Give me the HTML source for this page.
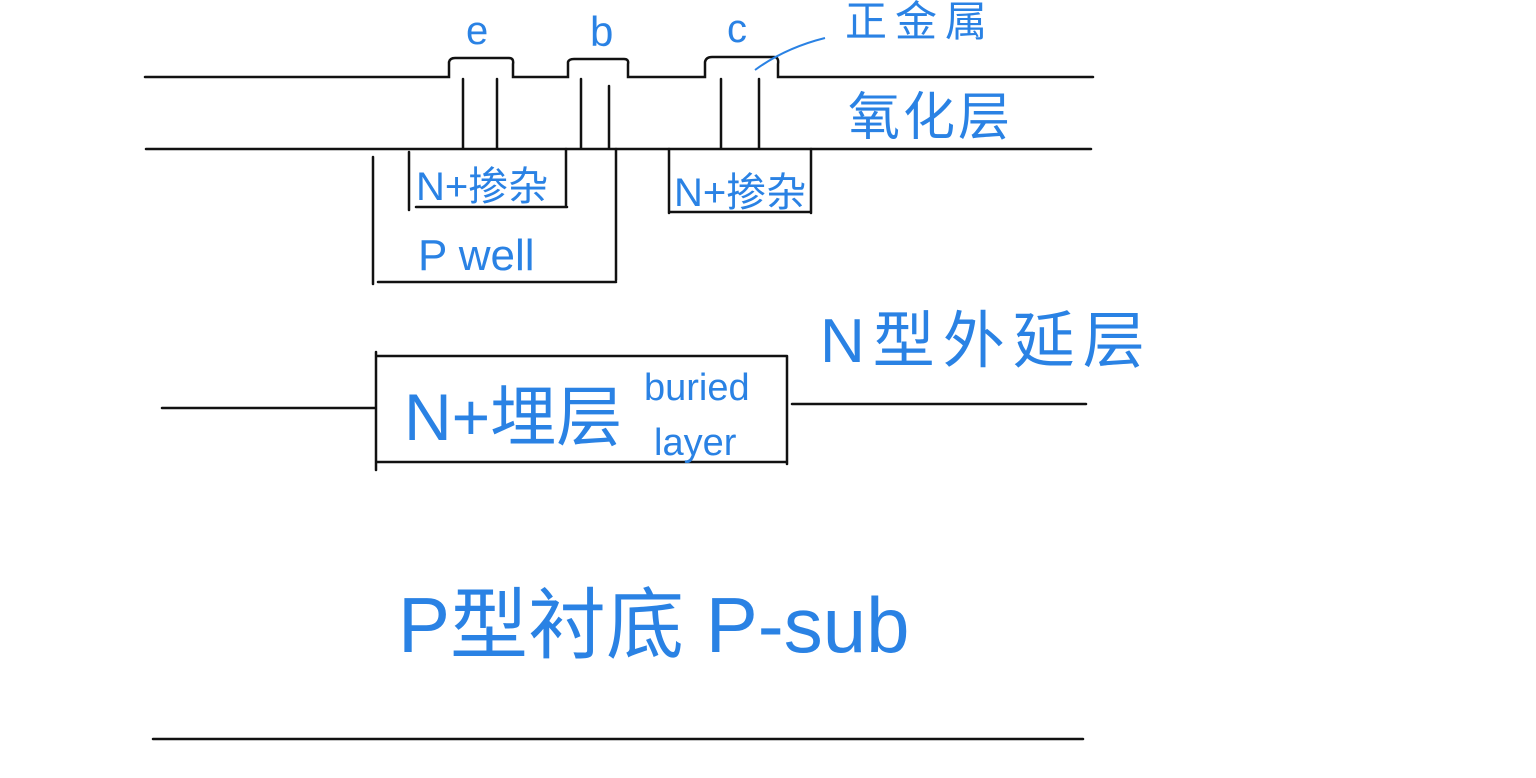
<!DOCTYPE html>
<html><head><meta charset="utf-8"><style>
html,body{margin:0;padding:0;background:#fff;}
svg{display:block}
text{fill:#2a82e4;font-family:"Liberation Sans","Noto Sans CJK SC",sans-serif;}
</style></head><body>
<svg width="1536" height="778" viewBox="0 0 1536 778" xmlns="http://www.w3.org/2000/svg">
<g stroke="#111" stroke-width="2.5" fill="none" stroke-linecap="round">
<path d="M145 77 H449 V62 Q450 58 455 58 H509 Q514 58 513 64 V77 H568 V62 Q569 59 574 59 H624 Q629 59 628 64 V77 H705 V62 Q706 57 712 57 H774 Q779 57 778 64 V77 H1093"/>
<path d="M463 79 V148 M497 79 V148 M581 79 V148 M609 86 V148 M721 79 V148 M759 79 V148"/>
<path d="M146 149 H1091"/>
<path d="M409 152 V210 M416 207 H567 M566 149 V207"/>
<path d="M373 157 V284 M378 282 H616 M616 149 V280"/>
<path d="M669 149 V213 M669 212 H811 M811 149 V213"/>
<path d="M162 408 H375 M376 352 V470 M376 356 H787 M376 462 H787 M787 356 V464 M792 404 H1086"/>
<path d="M153 739 H1083"/>
</g>
<path d="M755 70 Q785 48 825 38" stroke="#2a82e4" stroke-width="2" fill="none"/>
<text x="466" y="44" font-size="40">e</text>
<text x="590" y="46" font-size="42">b</text>
<text x="727" y="42" font-size="40">c</text>
<text x="845" y="36" font-size="42" letter-spacing="8">正金属</text>
<text x="848" y="135" font-size="52" letter-spacing="3">氧化层</text>
<text x="416" y="200" font-size="40">N+掺杂</text>
<text x="674" y="206" font-size="40">N+掺杂</text>
<text x="418" y="270" font-size="44">P  well</text>
<text x="820" y="362" font-size="62" letter-spacing="8">N型外延层</text>
<text x="404" y="440" font-size="66">N+埋层</text>
<text x="644" y="400" font-size="38">buried</text>
<text x="654" y="455" font-size="38">layer</text>
<text x="398" y="652" font-size="78">P型衬底 P-sub</text>
</svg>
</body></html>
